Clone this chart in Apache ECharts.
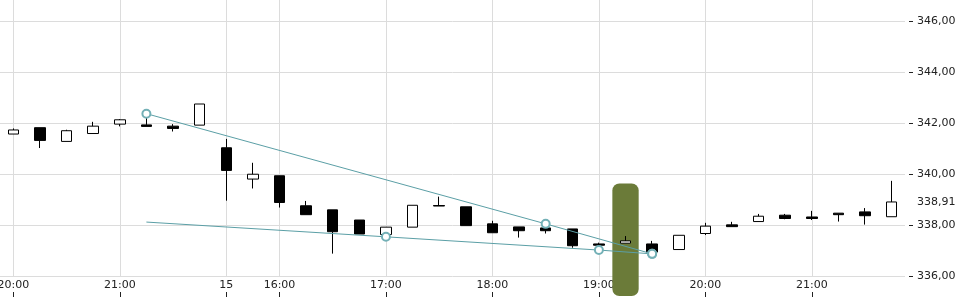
<!DOCTYPE html>
<html>
<head>
<meta charset="utf-8">
<script src="https://cdn.jsdelivr.net/npm/echarts@6/dist/echarts.min.js"></script>
<style>
html,body{margin:0;padding:0;background:#fff;}
#chart{width:960px;height:300px;}
</style>
</head>
<body>
<div id="chart"></div>
<script>
// 15-minute buckets
const categories = ['20:00','20:15','20:30','20:45','21:00','21:15','21:30','21:45',
  '15:30','15:45','16:00','16:15','16:30','16:45','17:00','17:15','17:30','17:45',
  '18:00','18:15','18:30','18:45','19:00','19:15','19:30','19:45','20:00','20:15',
  '20:30','20:45','21:00','21:15','21:30','21:45'];
const tickIndex  = [0, 4, 8, 10, 14, 18, 22, 26, 30];
const tickLabels = ['20:00','21:00','15','16:00','17:00','18:00','19:00','20:00','21:00'];

const opens  = [341.58,341.83,341.29,341.60,341.97,341.94,341.89,341.93,341.04,339.81,339.94,338.76,338.60,338.20,337.63,337.92,338.77,
                338.72,338.05,337.93,337.89,337.85,337.26,337.29,337.26,337.04,337.67,338.01,338.14,338.39,338.32,338.47,338.52,338.33];
const closes = [341.74,341.33,341.71,341.89,342.14,341.88,341.80,342.76,340.15,340.00,338.89,338.41,337.74,337.65,337.92,338.78,338.75,
                337.98,337.70,337.78,337.78,337.19,337.21,337.38,336.94,337.60,337.96,337.94,338.35,338.26,338.26,338.41,338.37,338.91];
const lows   = [341.58,341.03,341.29,341.60,341.88,341.88,341.68,341.93,338.96,339.44,338.69,338.41,336.88,337.65,337.53,337.92,338.75,
                337.98,337.70,337.51,337.67,337.11,337.07,337.29,336.94,337.04,337.61,337.94,338.14,338.23,338.20,338.14,338.02,338.33];
const highs  = [341.80,341.83,341.75,342.06,342.17,342.38,341.97,342.76,341.39,340.45,339.94,338.95,338.60,338.20,337.92,338.78,339.12,
                338.72,338.17,337.93,338.04,337.85,337.31,337.57,337.38,337.60,338.09,338.13,338.44,338.44,338.56,338.47,338.67,339.74];

// trend lines drawn on the chart [category index, price]
const trendA = [[5, 342.38], [20, 338.05], [24, 336.87]];
const trendB = [[5, 338.12], [14, 337.54], [22, 337.02], [24, 336.87]];
// highlighted bucket [category index, low, high]
const highlight = [[23, 335.21, 339.64]];

const lastPrice = closes[closes.length - 1];

const candleData = categories.map((c, i) => [opens[i], closes[i], lows[i], highs[i]]);
const teal = '#5b9fa6';
const tealLight = '#73b0b6';
const font = 'DejaVu Sans';
const txt = '#222';
const showTick = (idx) => tickIndex.indexOf(idx) >= 0;

const chart = echarts.init(document.getElementById('chart'), null, {renderer: 'canvas'});
chart.setOption({
  animation: false,
  backgroundColor: '#fff',
  grid: {left: 0, right: 55, top: -29.3, bottom: 24, containLabel: false, outerBoundsMode: 'none'},
  xAxis: [{
    type: 'category',
    data: categories,
    boundaryGap: true,
    axisLine: {show: false},
    axisTick: {show: false},
    axisLabel: {
      interval: (idx) => showTick(idx),
      formatter: (v, idx) => { const k = tickIndex.indexOf(idx); return k >= 0 ? tickLabels[k] : ''; },
      margin: 4, color: txt, fontFamily: font, fontSize: 11, hideOverlap: false
    },
    splitLine: {show: true, interval: (idx) => showTick(idx), alignWithLabel: true,
      lineStyle: {color: '#dcdcdc', width: 1}}
  }, {
    type: 'category',
    data: categories,
    boundaryGap: true,
    position: 'bottom',
    offset: 16,
    axisLine: {show: false},
    axisLabel: {show: false},
    axisTick: {show: true, alignWithLabel: true, interval: (idx) => showTick(idx), length: 5,
      lineStyle: {color: txt, width: 1}},
    splitLine: {show: false}
  }],
  yAxis: {
    type: 'value',
    position: 'right',
    min: 336, max: 348, interval: 2,
    offset: 4,
    axisLine: {show: false},
    axisTick: {show: true, length: 4, lineStyle: {color: txt, width: 1}},
    axisLabel: {margin: 8, color: txt, fontFamily: font, fontSize: 11,
      formatter: (v) => v.toFixed(2).replace('.', ',')},
    splitLine: {show: true, lineStyle: {color: '#dcdcdc', width: 1}}
  },
  series: [{
    type: 'custom',
    xAxisIndex: 0,
    data: highlight,
    encode: {x: 0, y: [1, 2]},
    clip: false,
    silent: true,
    renderItem: (params, api) => {
      const x = api.value(0);
      const top = api.coord([x, api.value(2)]);
      const bot = api.coord([x, api.value(1)]);
      const w = api.size([1, 0])[0] - 0.3;
      return {type: 'rect',
        shape: {x: top[0] - w / 2, y: top[1], width: w, height: bot[1] - top[1], r: 7},
        style: {fill: '#6b7b39'}};
    }
  }, {
    type: 'candlestick',
    xAxisIndex: 0,
    data: candleData,
    barWidth: 11,
    itemStyle: {color: '#fff', color0: '#000', borderColor: '#000', borderColor0: '#000', borderWidth: 1},
    markLine: {
      silent: true,
      symbol: ['none', 'none'],
      lineStyle: {color: 'rgba(0,0,0,0)', width: 0, type: 'solid'},
      label: {show: true, position: 'end', distance: 12, color: txt, fontFamily: font, fontSize: 11,
        formatter: () => lastPrice.toFixed(2).replace('.', ',')},
      emphasis: {disabled: true},
      data: [{yAxis: lastPrice}]
    }
  }, {
    type: 'line',
    xAxisIndex: 0,
    data: trendA,
    symbol: 'emptyCircle',
    symbolSize: 8,
    lineStyle: {color: teal, width: 1},
    itemStyle: {color: tealLight, borderColor: tealLight, borderWidth: 1},
    z: 5
  }, {
    type: 'line',
    xAxisIndex: 0,
    data: trendB.map((p, i) => i === 0 ? {value: p, symbol: 'none'} : {value: p}),
    symbol: 'emptyCircle',
    symbolSize: 8,
    lineStyle: {color: teal, width: 1},
    itemStyle: {color: tealLight, borderColor: tealLight, borderWidth: 1},
    z: 5
  }]
});
</script>
</body>
</html>
